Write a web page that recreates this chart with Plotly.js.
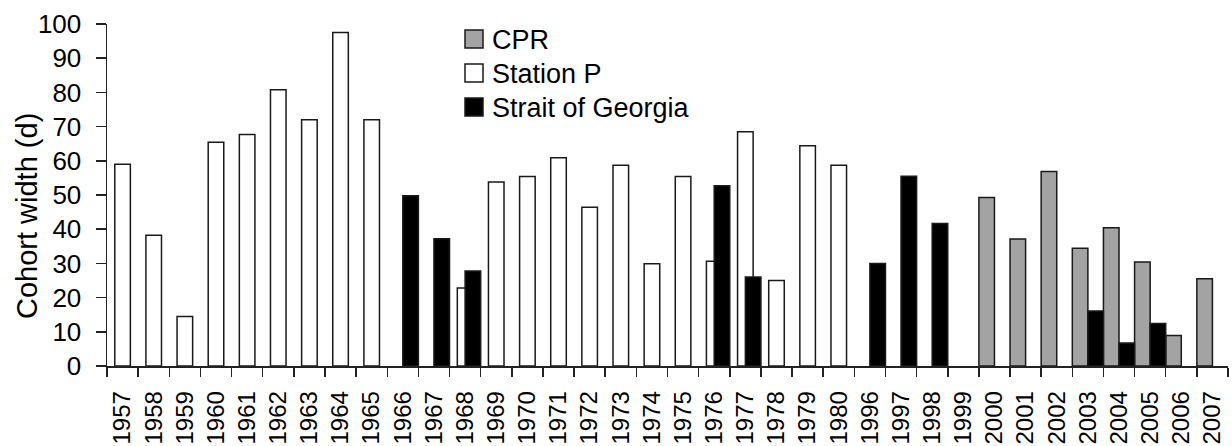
<!DOCTYPE html>
<html>
<head>
<meta charset="utf-8">
<script src="https://cdn.plot.ly/plotly-3.0.1.min.js"></script>
<style>
  html, body { margin: 0; padding: 0; background: #ffffff; }
  #chart { width: 1232px; height: 446px; }
</style>
</head>
<body>
<div id="chart"></div>
<script>
// Cohort width (days) by year for three sampling programmes
const years = ['1957','1958','1959','1960','1961','1962','1963','1964','1965','1966',
               '1967','1968','1969','1970','1971','1972','1973','1974','1975','1976',
               '1977','1978','1979','1980','1996','1997','1998','1999','2000','2001',
               '2002','2003','2004','2005','2006','2007'];

const cprValues = [null,null,null,null,null,null,null,null,null,null,
                   null,null,null,null,null,null,null,null,null,null,
                   null,null,null,null,null,null,null,null,49.3,37.1,
                   56.9,34.4,40.4,30.4,8.9,25.5];

const stationPValues = [59.0,38.2,14.5,65.4,67.7,80.8,72.0,97.5,72.0,null,
                        null,22.8,53.8,55.4,60.9,46.4,58.7,29.9,55.4,30.6,
                        68.5,25.0,64.4,58.7,null,null,null,null,null,null,
                        null,null,null,null,null,null];

const straitValues = [null,null,null,null,null,null,null,null,null,49.8,
                      37.2,27.8,null,null,null,null,null,null,null,52.7,
                      26.0,null,null,null,30.0,55.5,41.7,null,null,null,
                      null,16.1,6.7,12.4,null,null];

const seriesNames = ['CPR', 'Station P', 'Strait of Georgia'];
const seriesFills = ['#a3a3a3', '#ffffff', '#000000'];
const seriesValues = [cprValues, stationPValues, straitValues];
// each bar spans half a category; the three series are staggered by a quarter
const seriesOffsets = [-0.5, -0.25, 0];

const FONT = 'Liberation Sans, Arial, Helvetica, sans-serif';

const traces = seriesNames.map((name, i) => ({
  type: 'bar',
  name: name,
  x: years,
  y: seriesValues[i],
  width: 0.5,
  offset: seriesOffsets[i],
  marker: { color: seriesFills[i], line: { color: '#1a1a1a', width: 1.5 } },
  showlegend: false,
  hoverinfo: 'x+y+name'
}));

// plot-area geometry in pixels, used to place the key and the y title
const W = 1232, H = 446;
const M = { l: 107, r: 4, t: 24, b: 80 };
const PW = W - M.l - M.r, PH = H - M.t - M.b;
const px = x => (x - M.l) / PW;
const py = y => (H - M.b - y) / PH;

const shapes = [];
const annotations = [];
const keyLeft = 465, keySize = 18, keyRows = [39, 73, 107];
seriesNames.forEach((name, i) => {
  const cy = keyRows[i];
  shapes.push({
    type: 'rect', xref: 'paper', yref: 'paper',
    x0: px(keyLeft), x1: px(keyLeft + keySize),
    y0: py(cy + keySize / 2), y1: py(cy - keySize / 2),
    fillcolor: seriesFills[i], line: { color: '#1a1a1a', width: 1.5 }
  });
  annotations.push({
    xref: 'paper', yref: 'paper',
    x: px(keyLeft + keySize + 7), y: py(cy + 1),
    xanchor: 'left', yanchor: 'middle',
    text: name, showarrow: false,
    font: { family: FONT, size: 27, color: '#000000' }
  });
});

// y-axis title
annotations.push({
  xref: 'paper', yref: 'paper',
  x: px(27), y: py(216),
  xanchor: 'center', yanchor: 'middle',
  textangle: -90,
  text: 'Cohort width (d)', showarrow: false,
  font: { family: FONT, size: 29, color: '#000000' }
});

const layout = {
  width: W, height: H,
  margin: M,
  paper_bgcolor: '#ffffff',
  plot_bgcolor: '#ffffff',
  barmode: 'overlay',
  font: { family: FONT, color: '#000000' },
  xaxis: {
    type: 'category',
    range: [-0.5, years.length - 0.5],
    dtick: 1,
    showline: true, linecolor: '#222222', linewidth: 1.5,
    ticks: 'outside', tickson: 'boundaries', ticklen: 9, tickwidth: 1.5, tickcolor: '#222222',
    tickangle: -90,
    tickfont: { family: FONT, size: 24, color: '#000000' },
    ticklabelstandoff: 14,
    showgrid: false, zeroline: false, fixedrange: true
  },
  yaxis: {
    range: [0, 100],
    dtick: 10,
    showline: true, linecolor: '#222222', linewidth: 1.5,
    ticks: 'outside', ticklen: 10, tickwidth: 1.5, tickcolor: '#222222',
    tickfont: { family: FONT, size: 26, color: '#000000' },
    ticklabelstandoff: 9,
    showgrid: false, zeroline: false, fixedrange: true
  },
  shapes: shapes,
  annotations: annotations
};

Plotly.newPlot('chart', traces, layout, { displayModeBar: false, staticPlot: true });
</script>
</body>
</html>
